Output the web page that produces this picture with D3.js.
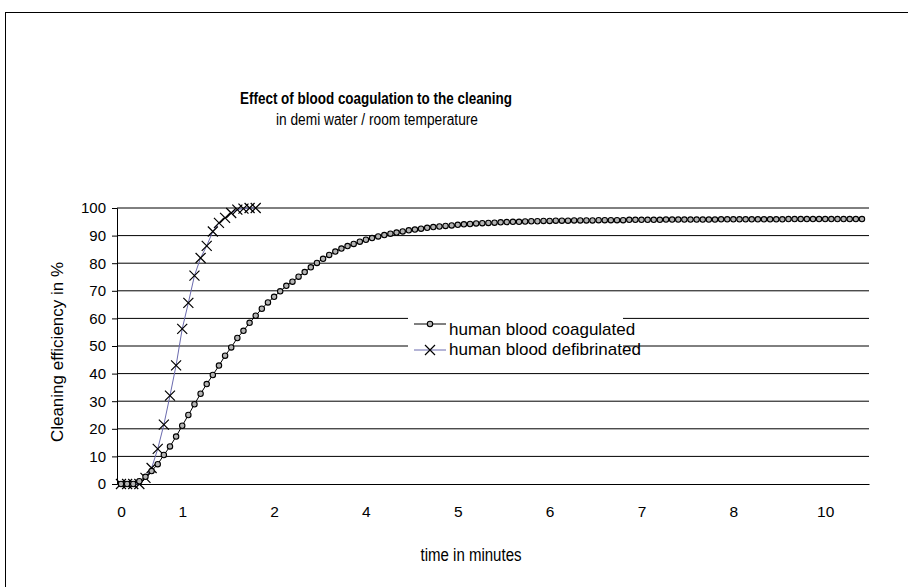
<!DOCTYPE html>
<html>
<head>
<meta charset="utf-8">
<script src="https://cdn.jsdelivr.net/npm/d3@7"></script>
<style>
	body { margin: 0; background: #fff; }
	svg { display: block; font-family: "Liberation Sans", Arial, sans-serif; }
</style>
</head>
<body>
<div id="chart"></div>
<script>
"use strict";

//
//	Data (one value per sample, samples are equally spaced)
//
var coagulated = [
	0, 0, 0, 1.0, 2.6, 4.7, 7.2, 10.5, 13.6, 17.2,
	21.1, 25.0, 28.9, 32.7, 36.2, 39.5, 42.9, 46.5, 49.5, 52.9,
	55.5, 58.4, 61.0, 63.5, 65.8, 67.8, 69.8, 71.8, 73.3, 75.1,
	76.8, 78.5, 80.1, 81.6, 83.0, 84.2, 85.3, 86.2, 87.0, 87.8,
	88.5, 89.1, 89.7, 90.2, 90.7, 91.1, 91.5, 91.9, 92.2, 92.5,
	92.8, 93.1, 93.3, 93.5, 93.7, 93.9, 94.1, 94.2, 94.4, 94.5,
	94.6, 94.7, 94.8, 94.9, 95.0, 95.0, 95.1, 95.2, 95.2, 95.3,
	95.3, 95.4, 95.4, 95.4, 95.5, 95.5, 95.5, 95.5, 95.6, 95.6,
	95.6, 95.6, 95.6, 95.7, 95.7, 95.7, 95.7, 95.7, 95.7, 95.8,
	95.8, 95.8, 95.8, 95.8, 95.8, 95.8, 95.8, 95.8, 95.9, 95.9,
	95.9, 95.9, 95.9, 95.9, 95.9, 95.9, 95.9, 95.9, 95.9, 96.0,
	96.0, 96.0, 96.0, 96.0, 96.0, 96.0, 96.0, 96.0, 96.0, 96.0,
	96.0, 96.0
];
var defibrinated = [
	0, 0, 0, 0, 2.2, 5.8, 12.7, 21.5, 32.0, 43.0,
	56.2, 65.6, 75.5, 81.9, 86.3, 91.5, 94.6, 96.4, 98.2, 99.4,
	99.8, 100, 100
];
var xTickIndex = [0, 10, 25, 40, 55, 70, 85, 100, 115];
var xTickLabels = ["0", "1", "2", "4", "5", "6", "7", "8", "10"];
var yTicks = [0, 10, 20, 30, 40, 50, 60, 70, 80, 90, 100];

var seriesNames = ["human blood coagulated", "human blood defibrinated"];
var titleText = "Effect of blood coagulation to the cleaning";
var subtitleText = "in demi water / room temperature";

//
//	Layout
//
var W = 908, H = 587;
var plot = {left: 117, right: 869, top: 208, bottom: 484};
var LINE_BLUE = "#6a6aae";

var svg = d3.select("#chart").append("svg")
	.attr("width", W).attr("height", H);

// chart frame, cut by the picture edge on the right and bottom
svg.append("rect")
	.attr("x", 5.5).attr("y", 12.5)
	.attr("width", 930).attr("height", 600)
	.attr("fill", "#fff").attr("stroke", "#000");

var x = d3.scaleLinear().domain([-0.65, 122.15]).range([plot.left, plot.right]);
var y = d3.scaleLinear().domain([0, 100]).range([plot.bottom, plot.top]);

//
//	Gridlines and axes
//
svg.append("g").selectAll("line").data(yTicks.filter(function(d){ return d > 0; }))
	.enter().append("line")
	.attr("x1", plot.left).attr("x2", plot.right)
	.attr("y1", function(d){ return y(d); }).attr("y2", function(d){ return y(d); })
	.attr("stroke", "#000").attr("stroke-width", 1);

var yAxis = d3.axisLeft(y).tickValues(yTicks).tickSize(5).tickPadding(6);
var gy = svg.append("g").attr("transform", "translate(" + plot.left + ",0)").call(yAxis);
gy.select(".domain").attr("stroke", "#000");
gy.selectAll("text").attr("font-size", 15).attr("font-family", "Liberation Sans, Arial").attr("fill", "#000");

var xAxis = d3.axisBottom(x).tickValues(xTickIndex).tickSize(0).tickPadding(22)
	.tickFormat(function(d, i){ return xTickLabels[i]; });
var gx = svg.append("g").attr("transform", "translate(0," + plot.bottom + ")").call(xAxis);
gx.select(".domain").attr("stroke", "#000");
gx.selectAll("text").attr("font-size", 15.5).attr("font-family", "Liberation Sans, Arial").attr("fill", "#000");

//
//	Titles (the original text is squeezed sideways, so fix the run length)
//
function squeezedText(cx, cy, txt, size, len){
	return svg.append("text").attr("x", cx).attr("y", cy)
		.attr("text-anchor", "middle").attr("font-size", size)
		.attr("textLength", len).attr("lengthAdjust", "spacingAndGlyphs")
		.text(txt);
}
squeezedText(376, 104, titleText, 16.5, 272).attr("font-weight", "bold");
squeezedText(377, 125, subtitleText, 16, 202);
squeezedText(471, 561, "time in minutes", 17.5, 101);

svg.append("text")
	.attr("transform", "translate(63,352) rotate(-90)")
	.attr("text-anchor", "middle").attr("font-size", 17)
	.text("Cleaning efficiency in %");

//
//	Series
//
var line = d3.line()
	.x(function(d, i){ return x(i); })
	.y(function(d){ return y(d); });

function drawCross(g, cx, cy, r){
	g.append("path")
		.attr("d", "M" + (cx - r) + "," + (cy - r) + "L" + (cx + r) + "," + (cy + r) +
			"M" + (cx - r) + "," + (cy + r) + "L" + (cx + r) + "," + (cy - r))
		.attr("stroke", "#000").attr("stroke-width", 1.2).attr("fill", "none");
}

var gDef = svg.append("g");
gDef.append("path").datum(defibrinated).attr("d", line)
	.attr("fill", "none").attr("stroke", LINE_BLUE).attr("stroke-width", 1);
defibrinated.forEach(function(d, i){ drawCross(gDef, x(i), y(d), 5); });

var gCoag = svg.append("g");
gCoag.append("path").datum(coagulated).attr("d", line)
	.attr("fill", "none").attr("stroke", "#000").attr("stroke-width", 1);
gCoag.selectAll("circle").data(coagulated).enter().append("circle")
	.attr("cx", function(d, i){ return x(i); })
	.attr("cy", function(d){ return y(d); })
	.attr("r", 2.7)
	.attr("fill", "#b4b4b4").attr("stroke", "#000").attr("stroke-width", 1.1);

//
//	Legend (white box over the gridlines, text runs past it)
//
var lg = svg.append("g");
lg.append("rect").attr("x", 408).attr("y", 306).attr("width", 215).attr("height", 52).attr("fill", "#fff");

lg.append("line").attr("x1", 414).attr("x2", 446).attr("y1", 324).attr("y2", 324).attr("stroke", "#000");
lg.append("circle").attr("cx", 430).attr("cy", 324).attr("r", 2.7)
	.attr("fill", "#b4b4b4").attr("stroke", "#000").attr("stroke-width", 1.1);
lg.append("text").attr("x", 449).attr("y", 335).attr("font-size", 17).text(seriesNames[0]);

lg.append("line").attr("x1", 414).attr("x2", 446).attr("y1", 350).attr("y2", 350).attr("stroke", LINE_BLUE);
drawCross(lg, 430, 350, 5);
lg.append("text").attr("x", 449).attr("y", 355).attr("font-size", 17).text(seriesNames[1]);
</script>
</body>
</html>
